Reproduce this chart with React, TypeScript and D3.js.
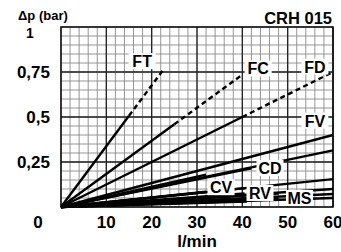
import React from "react";
import * as d3 from "d3";

// spool curves: end point (flow l/min, dp bar), and where the solid part stops
const curveNames = ["FT", "FC", "FD", "FV", "CD", "CD2", "CV", "CV2", "RV1", "RV2", "RV3", "RV4", "MS", "MS2", "MS3", "MS4", "MS5", "MS6"];
const endFlow = [22.5, 40, 60, 60, 60, 42, 32, 32, 40.5, 40.5, 41, 41, 60, 48, 48, 60, 60, 60];
const endDp = [0.76, 0.735, 0.75, 0.4, 0.315, 0.215, 0.18, 0.085, 0.105, 0.075, 0.045, 0.03, 0.155, 0.075, 0.045, 0.1, 0.072, 0.05];
const solidTo = [15, 25, 40, 60, 60, 42, 32, 32, 40.5, 40.5, 41, 41, 60, 48, 48, 60, 60, 60];

// label text and anchor in data units
const labels = ["FT", "FC", "FD", "FV", "CD", "CV", "RV", "MS"];
const labelFlow = [17.9, 43.5, 56, 56, 46.1, 35.3, 43.9, 52.6];
const labelDp = [0.81, 0.77, 0.78, 0.48, 0.217, 0.11, 0.078, 0.05];

const xTicks = [10, 20, 30, 40, 50, 60];
const yTicks = [0.25, 0.5, 0.75];
const yTickText = ["0,25", "0,5", "0,75"];

const W = 341;
const H = 252;

export default function App() {
  const x = d3.scaleLinear().domain([0, 60]).range([61, 333]);
  const y = d3.scaleLinear().domain([0, 1]).range([207, 27]);
  const font = "'Liberation Sans', Arial, sans-serif";

  const minorX = d3.range(0, 61, 2);
  const minorY = d3.range(0, 1.001, 0.05);
  const line = d3.line<[number, number]>().x((d) => x(d[0])).y((d) => y(d[1]));

  return (
    <svg width={W} height={H} style={{ position: "absolute", left: 0, top: 0, background: "#fff" }} fontFamily={font}>
      {/* minor grid */}
      {minorX.map((v) => (
        <line key={"mx" + v} x1={x(v)} x2={x(v)} y1={y(0)} y2={y(1)} stroke="#8a8a8a" strokeWidth={0.9} />
      ))}
      {minorY.map((v, i) => (
        <line key={"my" + i} x1={x(0)} x2={x(60)} y1={y(v)} y2={y(v)} stroke="#8a8a8a" strokeWidth={0.9} />
      ))}
      {/* major grid */}
      {xTicks.map((v) => (
        <line key={"Mx" + v} x1={x(v)} x2={x(v)} y1={y(0)} y2={y(1)} stroke="#222" strokeWidth={1.3} />
      ))}
      {yTicks.map((v) => (
        <line key={"My" + v} x1={x(0)} x2={x(60)} y1={y(v)} y2={y(v)} stroke="#222" strokeWidth={1.3} />
      ))}
      <rect x={x(0)} y={y(1)} width={x(60) - x(0)} height={y(0) - y(1)} fill="none" stroke="#111" strokeWidth={1.6} />

      {/* curves */}
      {curveNames.map((n, i) => {
        const k = endDp[i] / endFlow[i];
        const s = solidTo[i];
        return (
          <g key={n}>
            <path d={line([[0, 0], [s, s * k]]) || ""} stroke="#000" strokeWidth={2.4} fill="none" />
            {s < endFlow[i] && (
              <path
                d={line([[s, s * k], [endFlow[i], endDp[i]]]) || ""}
                stroke="#000"
                strokeWidth={2.4}
                strokeDasharray="5,3.5"
                fill="none"
              />
            )}
          </g>
        );
      })}

      {/* curve labels */}
      {labels.map((t, i) => {
        const cx = x(labelFlow[i]);
        const cy = y(labelDp[i]);
        const w = t.length * 12 + 3;
        return (
          <g key={t}>
            <rect x={cx - w / 2} y={cy - 8} width={w} height={16} fill="#fff" />
            <text x={cx} y={cy + 6} textAnchor="middle" fontSize={16} fontWeight="bold">
              {t}
            </text>
          </g>
        );
      })}

      {/* axes labels */}
      {xTicks.map((v) => (
        <text key={"xt" + v} x={x(v)} y={228} textAnchor="middle" fontSize={17} fontWeight="bold">
          {v}
        </text>
      ))}
      <text x={38} y={228} textAnchor="middle" fontSize={17} fontWeight="bold">0</text>
      {yTicks.map((v, i) => (
        <text key={"yt" + v} x={50} y={y(v) + 6} textAnchor="end" fontSize={17} fontWeight="bold">
          {yTickText[i]}
        </text>
      ))}
      <text x={30} y={38} textAnchor="middle" fontSize={14} fontWeight="bold">1</text>
      <text x={18} y={20} fontSize={13} fontWeight="bold">Δp (bar)</text>
      <text x={332} y={24} textAnchor="end" fontSize={16.5} fontWeight="bold">CRH 015</text>
      <text x={197} y={247} textAnchor="middle" fontSize={17} fontWeight="bold">l/min</text>
    </svg>
  );
}
